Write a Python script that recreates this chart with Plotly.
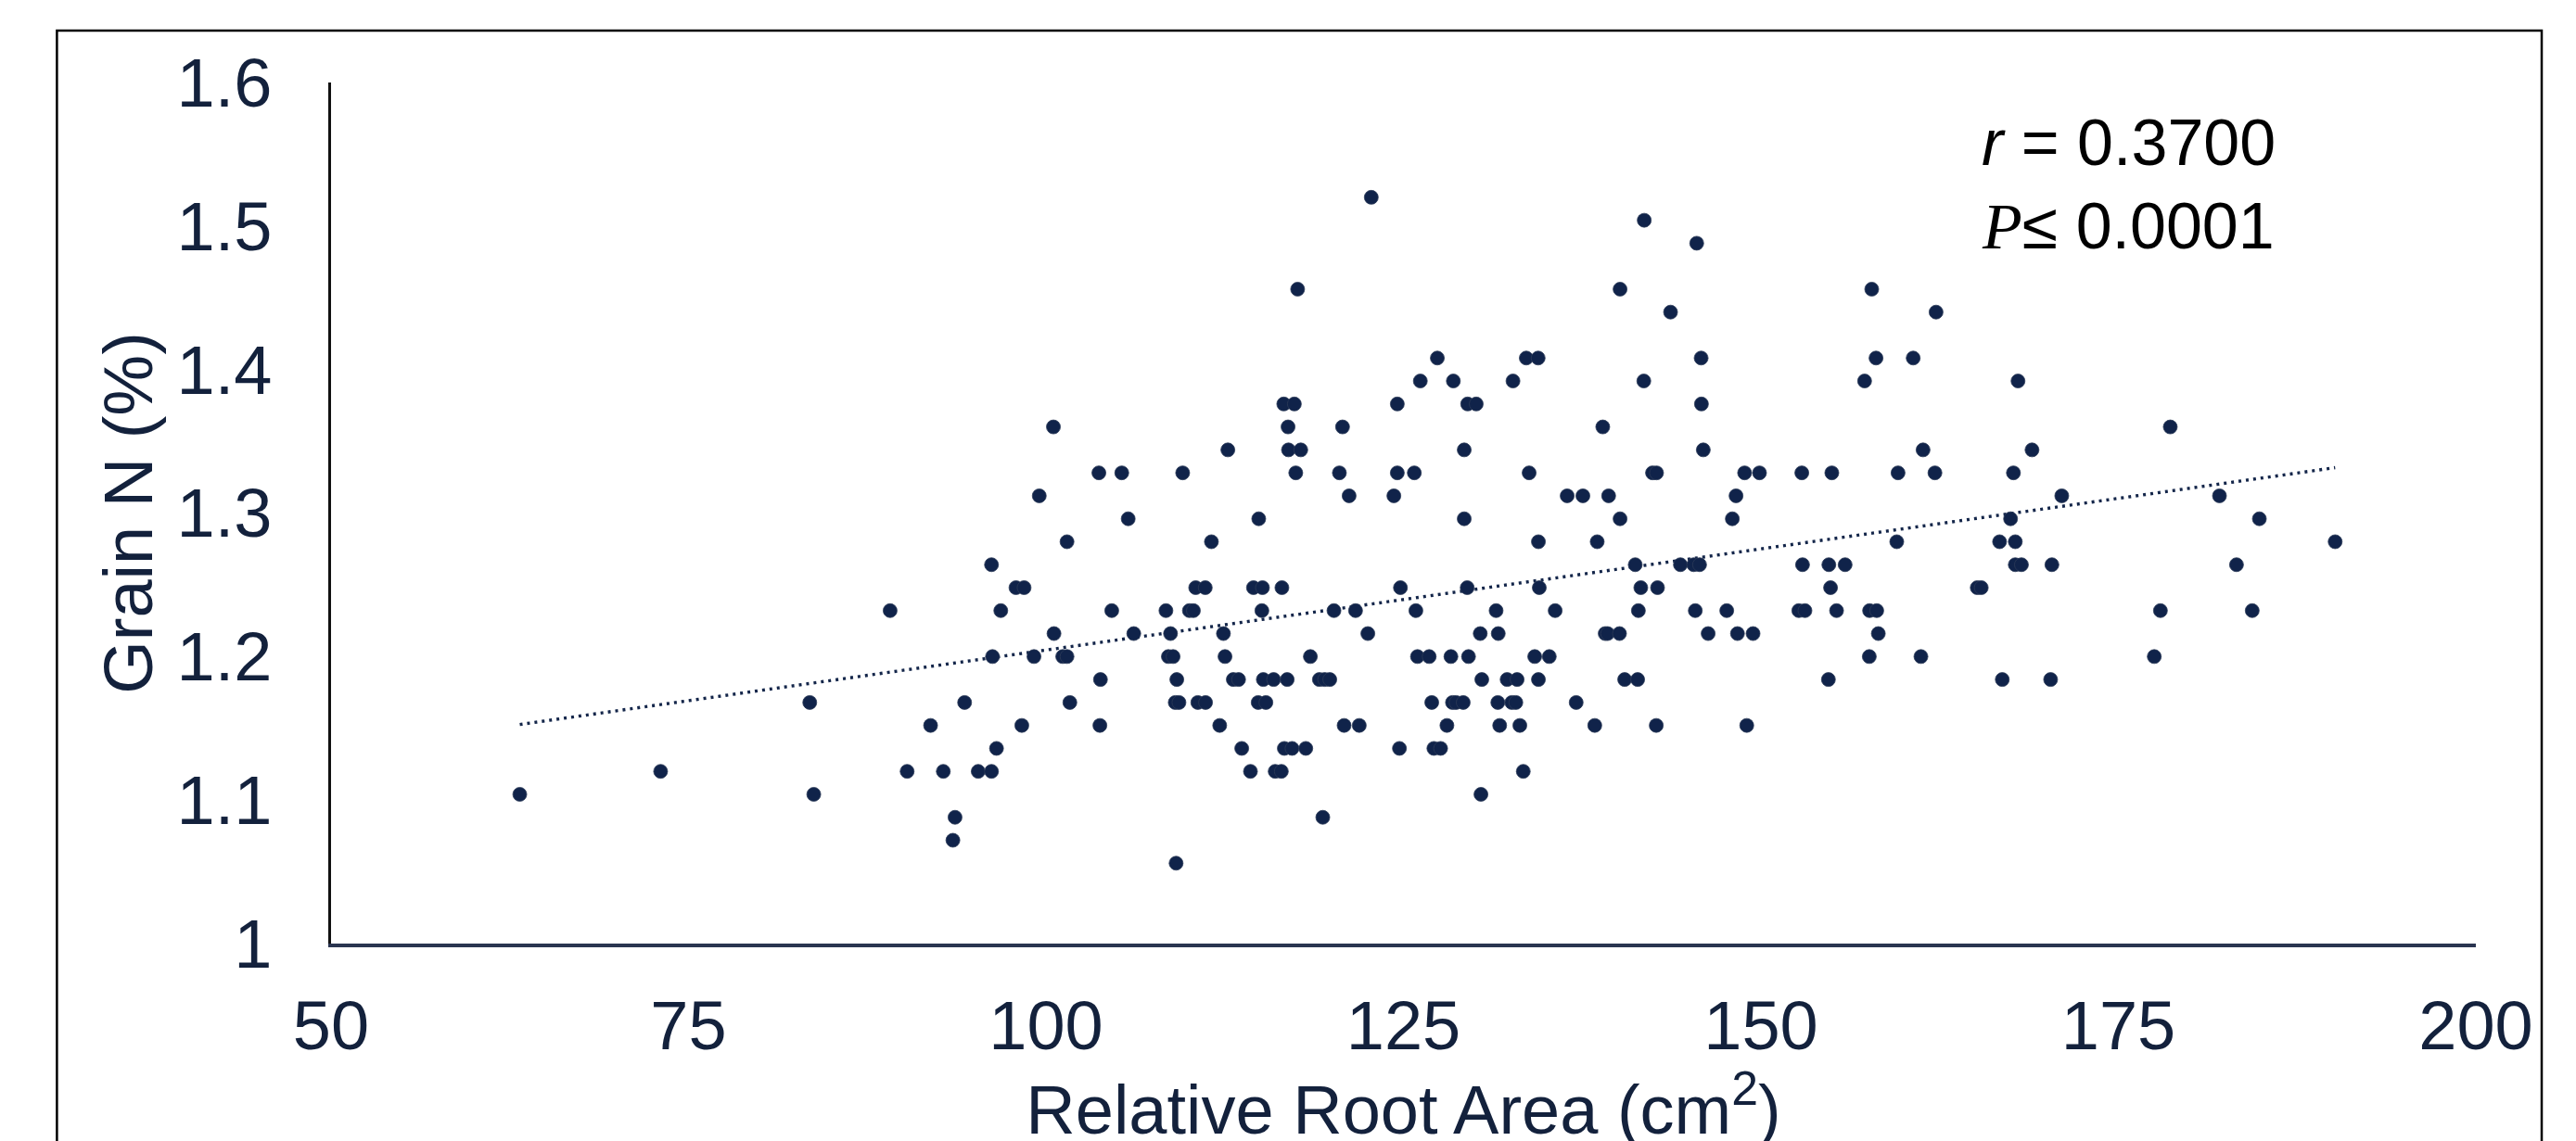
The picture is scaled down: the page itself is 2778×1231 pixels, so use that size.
import numpy as np
import plotly.graph_objects as go

# Relative root area (cm2) and grain N (%)
root_area = [
    63.2, 73.05,
    83.48, 83.76, 89.1, 90.29, 91.93, 92.82, 93.64, 93.49, 94.31, 95.26, 96.19, 96.54, 96.19, 96.84,
    96.26, 97.9, 98.47, 98.31, 99.16, 99.53, 100.52, 100.56, 101.17, 101.47, 101.47, 101.67, 103.7,
    103.81, 103.77,
    122.75, 117.6, 116.63, 117.37, 124.57, 116.93, 120.74, 112.72, 116.96, 117.82, 105.3, 109.56,
    117.47, 120.52, 124.57, 125.76, 121.2, 124.33, 105.75, 114.88, 111.57, 110.47, 111.14, 114.51,
    115.14, 116.5, 124.79, 104.6, 108.39, 110.03, 110.31, 115.1, 120.14, 121.65, 125.87, 106.14,
    108.71, 112.41, 122.51, 108.56, 108.89, 112.52, 118.49, 125.98, 109.15, 113.1, 113.47, 115.2,
    115.92, 116.87, 119.12, 119.49, 119.85, 109.04, 109.3, 110.62, 111.16, 114.84, 115.38, 112.15,
    120.85, 121.91, 113.69, 116.67, 117.21, 118.17, 124.72, 114.3, 116.03, 116.46, 119.36, 109.1,
    141.84, 145.51, 140.15, 143.68, 127.37, 133.59, 134.42, 145.82, 126.18, 128.49, 132.66, 141.81,
    129.49, 130.09, 145.84, 138.94, 129.25, 145.97, 133.79, 142.42, 142.7, 136.45, 137.55, 139.35,
    129.25, 140.15, 134.44, 138.55, 141.21, 144.37, 145.3, 145.71, 129.46, 134.5, 141.6, 142.77,
    131.48, 135.61, 141.43, 145.41, 130.37, 131.63, 139.11, 139.28, 140.11, 146.31, 126.8, 128.32,
    129.55, 134.18, 135.2, 130.48, 132.25, 132.95, 134.44, 140.47, 141.38, 126.98, 128.43, 128.68,
    129.18, 131.6, 132.58, 132.86, 137.08, 128.04, 131.73, 133.14, 138.38, 142.68, 127.13, 127.6,
    133.38, 130.42,
    157.75, 162.25, 158.05, 160.65, 157.25, 167.98, 161.34, 148.86, 149.9, 152.86, 154.96, 159.59,
    162.17, 167.66, 148.26, 148.0, 167.46, 159.5, 166.69, 167.79, 152.91, 154.75, 155.89, 167.79,
    168.22, 165.13, 165.41, 154.87, 147.61, 152.65, 153.08, 155.29, 157.6, 158.1, 148.36, 149.45,
    158.21, 157.58, 161.19, 154.72, 166.88, 149.01,
    168.96, 178.63, 171.04, 182.07, 184.86, 190.16, 170.35, 183.26, 177.94, 184.36, 177.51, 170.26,
]

grain_n = [
    1.104, 1.120,
    1.168, 1.104, 1.232, 1.120, 1.152, 1.120, 1.088, 1.072, 1.168, 1.120, 1.120, 1.136, 1.264, 1.232,
    1.200, 1.248, 1.248, 1.152, 1.200, 1.312, 1.360, 1.216, 1.200, 1.200, 1.280, 1.168, 1.328,
    1.184, 1.152,
    1.520, 1.456, 1.376, 1.376, 1.376, 1.360, 1.360, 1.344, 1.344, 1.344, 1.328, 1.328,
    1.328, 1.328, 1.328, 1.328, 1.312, 1.312, 1.296, 1.296, 1.280, 1.248, 1.248, 1.248,
    1.248, 1.248, 1.248, 1.232, 1.232, 1.232, 1.232, 1.232, 1.232, 1.232, 1.232, 1.216,
    1.216, 1.216, 1.216, 1.200, 1.200, 1.200, 1.200, 1.200, 1.184, 1.184, 1.184, 1.184,
    1.184, 1.184, 1.184, 1.184, 1.184, 1.168, 1.168, 1.168, 1.168, 1.168, 1.168, 1.152,
    1.152, 1.152, 1.136, 1.136, 1.136, 1.136, 1.136, 1.120, 1.120, 1.120, 1.088, 1.056,
    1.504, 1.488, 1.456, 1.440, 1.408, 1.408, 1.408, 1.408, 1.392, 1.392, 1.392, 1.392,
    1.376, 1.376, 1.376, 1.360, 1.344, 1.344, 1.328, 1.328, 1.328, 1.312, 1.312, 1.312,
    1.296, 1.296, 1.280, 1.280, 1.264, 1.264, 1.264, 1.264, 1.248, 1.248, 1.248, 1.248,
    1.232, 1.232, 1.232, 1.232, 1.216, 1.216, 1.216, 1.216, 1.216, 1.216, 1.200, 1.200,
    1.200, 1.200, 1.200, 1.184, 1.184, 1.184, 1.184, 1.184, 1.184, 1.168, 1.168, 1.168,
    1.168, 1.168, 1.168, 1.168, 1.168, 1.152, 1.152, 1.152, 1.152, 1.152, 1.136, 1.136,
    1.120, 1.104,
    1.456, 1.440, 1.408, 1.408, 1.392, 1.392, 1.344, 1.328, 1.328, 1.328, 1.328, 1.328,
    1.328, 1.328, 1.312, 1.296, 1.296, 1.280, 1.280, 1.280, 1.264, 1.264, 1.264, 1.264,
    1.264, 1.248, 1.248, 1.248, 1.232, 1.232, 1.232, 1.232, 1.232, 1.232, 1.216, 1.216,
    1.216, 1.200, 1.200, 1.184, 1.184, 1.152,
    1.344, 1.360, 1.312, 1.312, 1.296, 1.280, 1.264, 1.264, 1.232, 1.232, 1.200, 1.184,
]

x_ticks = [50, 75, 100, 125, 150, 175, 200]
y_ticks = [1.0, 1.1, 1.2, 1.3, 1.4, 1.5, 1.6]
y_tick_text = ["1", "1.1", "1.2", "1.3", "1.4", "1.5", "1.6"]
stat_lines = ["<i>r</i> = 0.3700",
              "<span style='font-family:Liberation Serif'><i>P</i></span>\u2264 0.0001"]

xa = np.array(root_area)
ya = np.array(grain_n)
slope, intercept = np.polyfit(xa, ya, 1)
trend_x = np.array([xa.min(), xa.max()])
trend_y = slope * trend_x + intercept

NAVY = "#13213c"
FONT = "Liberation Sans, Arial, sans-serif"

fig = go.Figure()
fig.add_trace(go.Scatter(
    x=trend_x, y=trend_y, mode="lines",
    line=dict(color="#14264a", width=3.4, dash="3px,5px"),
    hoverinfo="skip", showlegend=False))
fig.add_trace(go.Scatter(
    x=root_area, y=grain_n, mode="markers",
    marker=dict(size=15, color="#10234a", line=dict(width=0.8, color="#2c3b58")),
    showlegend=False))

for i, txt in enumerate(stat_lines):
    fig.add_annotation(
        text=txt, xref="paper", yref="paper",
        x=0.7685, y=[0.9300, 0.8335][i], xanchor="left", yanchor="middle",
        showarrow=False, font=dict(family=FONT, size=70, color="black"))

# outer frame
fig.add_shape(type="rect", xref="paper", yref="paper",
              x0=-0.1278, x1=1.0307, y0=-0.3, y1=1.0603,
              line=dict(color="black", width=2.5), fillcolor="rgba(0,0,0,0)", layer="below")

fig.update_layout(
    width=2778, height=1231,
    margin=dict(l=349, r=116, t=81, b=221, pad=0, autoexpand=False),
    paper_bgcolor="white", plot_bgcolor="white",
    font=dict(family=FONT, size=74, color=NAVY),
    xaxis=dict(
        range=[50, 200], tickvals=x_ticks, showgrid=False, zeroline=False,
        showline=True, linecolor="#2a3550", linewidth=3.5, ticks="",
        ticklabelstandoff=21, automargin=False,
        tickfont=dict(family=FONT, size=74, color=NAVY),
        title=dict(text="Relative Root Area (cm<sup>2</sup>)",
                   font=dict(family=FONT, size=74, color=NAVY), standoff=36),
    ),
    yaxis=dict(
        range=[1.0, 1.6], tickvals=y_ticks, ticktext=y_tick_text,
        showgrid=False, zeroline=False,
        showline=True, linecolor="#111111", linewidth=2.5, ticks="",
        ticklabelstandoff=46, automargin=False,
        tickfont=dict(family=FONT, size=74, color=NAVY),
        title=dict(text="Grain N (%)",
                   font=dict(family=FONT, size=74, color=NAVY), standoff=2),
    ),
)

fig.write_html("out.html")
